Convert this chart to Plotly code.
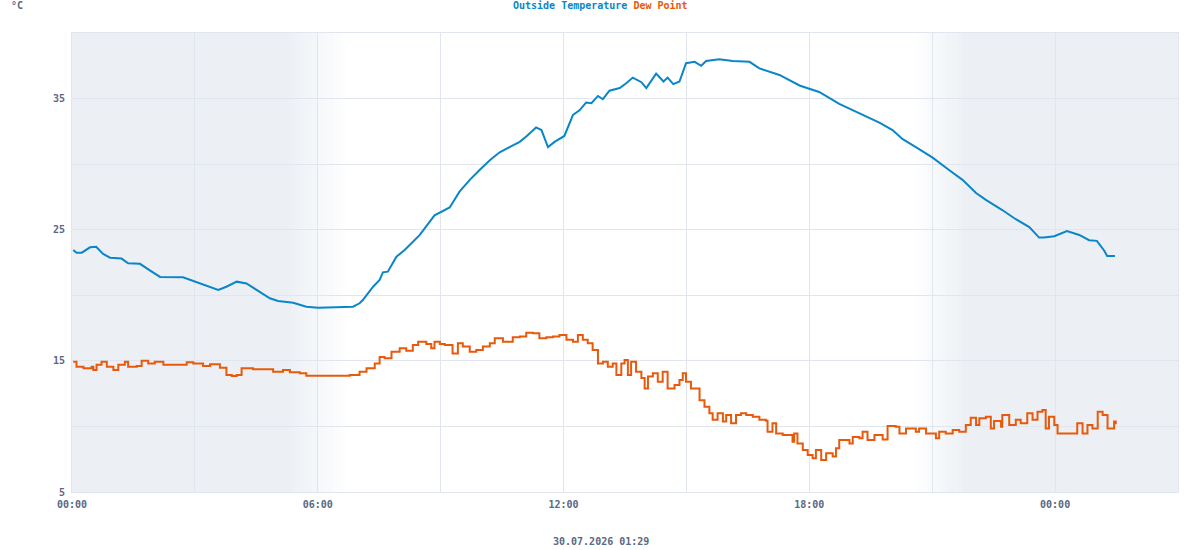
import plotly.graph_objects as go

# time in hours since 00:00 of 29.07.2026
temp_h = [0.03, 0.11, 0.24, 0.44, 0.59, 0.76, 0.93, 1.21, 1.37, 1.66, 1.90, 2.15, 2.71, 2.96, 3.29, 3.57,
          3.77, 4.02, 4.26, 4.50, 4.83, 5.03, 5.40, 5.72, 6.01, 6.86, 7.02, 7.10, 7.35, 7.51, 7.59, 7.71,
          7.92, 8.12, 8.37, 8.49, 8.85, 8.98, 9.22, 9.46, 9.71, 9.95, 10.20, 10.44, 10.68, 10.93, 11.09,
          11.33, 11.46, 11.62, 11.78, 12.02, 12.23, 12.39, 12.55, 12.68, 12.84, 12.96, 13.12, 13.37, 13.53,
          13.69, 13.90, 14.02, 14.26, 14.44, 14.54, 14.68, 14.83, 14.99, 15.20, 15.36, 15.48, 15.80, 16.13,
          16.54, 16.78, 17.27, 17.76, 18.24, 18.73, 19.22, 19.71, 20.03, 20.28, 20.60, 21.01, 21.41, 21.74,
          22.07, 22.31, 22.71, 23.04, 23.37, 23.61, 23.73, 23.98, 24.29, 24.59, 24.83, 25.02, 25.20, 25.27, 25.46]
temp_v = [23.45, 23.25, 23.25, 23.66, 23.7, 23.15, 22.87, 22.8, 22.44, 22.4, 21.9, 21.4, 21.37, 21.1, 20.7, 20.4,
          20.65, 21.04, 20.9, 20.4, 19.77, 19.56, 19.43, 19.13, 19.05, 19.13, 19.39, 19.64, 20.65, 21.17, 21.75, 21.8,
          22.94, 23.45, 24.2, 24.6, 26.1, 26.3, 26.7, 27.9, 28.8, 29.55, 30.3, 30.9, 31.3, 31.7, 32.1,
          32.8, 32.6, 31.3, 31.7, 32.15, 33.75, 34.1, 34.7, 34.65, 35.2, 34.95, 35.6, 35.8, 36.17,
          36.6, 36.25, 35.8, 36.9, 36.3, 36.6, 36.1, 36.3, 37.7, 37.8, 37.5, 37.86, 38.0, 37.86,
          37.8, 37.3, 36.8, 36.0, 35.5, 34.6, 33.9, 33.16, 32.6, 31.9, 31.3, 30.5, 29.55, 28.8,
          27.8, 27.27, 26.5, 25.8, 25.2, 24.4, 24.4, 24.5, 24.9, 24.6, 24.2, 24.15, 23.4, 23.0, 23.0]

dew_h = [0.03, 0.11, 0.28, 0.48, 0.52, 0.60, 0.72, 0.85, 1.01, 1.13, 1.29, 1.37, 1.58, 1.70, 1.86, 2.02, 2.23,
         2.71, 2.80, 2.96, 3.20, 3.37, 3.61, 3.77, 3.90, 4.02, 4.14, 4.42, 4.67, 4.91, 5.15, 5.32, 5.56, 5.72,
         5.97, 6.78, 7.02, 7.19, 7.39, 7.51, 7.63, 7.80, 8.00, 8.16, 8.32, 8.45, 8.65, 8.77, 8.85, 8.98, 9.10,
         9.29, 9.42, 9.54, 9.71, 9.87, 10.03, 10.20, 10.32, 10.52, 10.76, 10.93, 11.09, 11.25, 11.41, 11.58,
         11.74, 11.90, 12.07, 12.23, 12.35, 12.47, 12.59, 12.71, 12.84, 12.96, 13.08, 13.20, 13.29, 13.41,
         13.49, 13.57, 13.65, 13.77, 13.90, 13.98, 14.06, 14.18, 14.30, 14.42, 14.54, 14.71, 14.83, 14.91,
         14.99, 15.11, 15.24, 15.32, 15.44, 15.56, 15.64, 15.76, 15.89, 15.97, 16.09, 16.21, 16.33, 16.46,
         16.62, 16.78, 16.94, 16.98, 17.10, 17.19, 17.35, 17.59, 17.63, 17.71, 17.84, 17.96, 18.08, 18.16,
         18.29, 18.41, 18.57, 18.65, 18.73, 18.98, 19.06, 19.22, 19.30, 19.42, 19.59, 19.79, 19.91, 20.11,
         20.20, 20.36, 20.60, 20.68, 20.85, 21.09, 21.17, 21.33, 21.50, 21.66, 21.82, 21.94, 22.07, 22.15,
         22.31, 22.43, 22.51, 22.68, 22.71, 22.88, 23.04, 23.16, 23.32, 23.45, 23.57, 23.69, 23.77, 23.85,
         23.98, 24.06, 24.42, 24.54, 24.67, 24.79, 24.91, 25.04, 25.16, 25.28, 25.40, 25.44, 25.48]
dew_v = [14.94, 14.56, 14.43, 14.56, 14.3, 14.7, 14.94, 14.56, 14.3, 14.7, 14.94, 14.56, 14.6, 15.0, 14.8, 14.94, 14.7,
         14.7, 14.9, 14.8, 14.6, 14.75, 14.48, 13.92, 13.85, 13.92, 14.43, 14.36, 14.36, 14.17, 14.3, 14.13, 14.05, 13.87,
         13.87, 13.92, 14.17, 14.43, 14.8, 15.3, 15.2, 15.7, 15.96, 15.77, 16.2, 16.46, 16.28, 15.96, 16.46, 16.28, 16.2,
         15.57, 16.35, 16.1, 15.7, 15.83, 16.1, 16.35, 16.73, 16.46, 16.8, 16.85, 17.15, 17.1, 16.73, 16.8,
         16.85, 16.97, 16.6, 16.46, 16.97, 16.6, 16.35, 15.83, 14.8, 14.94, 14.56, 14.8, 13.92, 14.8,
         15.07, 13.92, 14.94, 14.17, 13.7, 12.9, 13.8, 14.05, 13.41, 14.17, 12.9, 13.16, 13.54, 14.05,
         13.41, 12.9, 12.9, 12.0, 11.5, 11.0, 10.5, 11.0, 10.37, 10.87, 10.24, 10.87, 11.0, 10.87,
         10.74, 10.5, 10.44, 9.6, 10.24, 9.47, 9.35, 8.84, 9.47, 8.7, 8.2, 7.82, 7.57, 8.2,
         7.44, 7.95, 7.7, 8.33, 8.97, 8.7, 9.2, 9.1, 9.6, 8.97, 9.35, 9.0, 10.03, 9.98,
         9.47, 9.85, 9.6, 9.85, 9.47, 9.09, 9.6, 9.47, 9.73, 9.6, 10.1, 10.67, 10.1, 10.62,
         10.74, 9.85, 10.41, 9.98, 10.87, 10.1, 10.5, 10.24, 11.0, 10.5, 11.12, 11.25, 9.85, 10.74,
         10.1, 9.47, 9.47, 10.24, 9.47, 10.1, 9.85, 11.12, 10.87, 9.85, 9.85, 10.37, 10.17]

x_ticks = [0, 3, 6, 9, 12, 15, 18, 21, 24, 27]
x_labels = ["00:00", "", "06:00", "", "12:00", "", "18:00", "", "00:00", ""]
y_ticks = [5, 10, 15, 20, 25, 30, 35, 40]
y_labels = ["5", "", "15", "", "25", "", "35", ""]

# night shading: full, fade (start, end)
night_left_full = (0, 5.32)
night_left_fade = (5.32, 6.75)
night_right_fade = (20.55, 21.8)
night_right_full = (21.8, 27)

BLUE = "#0a86c8"
ORANGE = "#e8590c"
TXT = "#5a6882"
GRID = "#e1e6ee"
NIGHT = "rgb(236,240,245)"
FONT = "DejaVu Sans Mono"

W, H = 1200, 550
ML, MR, MT, MB = 72, 22, 33, 58
PW, PH = W - ML - MR, H - MT - MB


def px_x(px):
    return (px - ML) / PW


def px_y(py):
    return (H - MB - py) / PH


fig = go.Figure()
fig.add_trace(go.Scatter(x=temp_h, y=temp_v, mode="lines", line=dict(color=BLUE, width=2),
                         name="Outside Temperature"))
fig.add_trace(go.Scatter(x=dew_h, y=dew_v, mode="lines", line=dict(color=ORANGE, width=2, shape="hv"),
                         name="Dew Point"))

shapes = []
for a, b in (night_left_full, night_right_full):
    shapes.append(dict(type="rect", xref="x", yref="y", x0=a, x1=b, y0=5, y1=40,
                       fillcolor=NIGHT, line_width=0, layer="below"))
steps = 24
for (a, b), rising in ((night_left_fade, False), (night_right_fade, True)):
    w = (b - a) / steps
    for i in range(steps):
        frac = (i + 0.5) / steps
        op = frac if rising else 1 - frac
        shapes.append(dict(type="rect", xref="x", yref="y", x0=a + i * w, x1=a + (i + 1) * w + 0.002,
                           y0=5, y1=40, fillcolor=NIGHT, opacity=op, line_width=0, layer="below"))

fnt = dict(family=FONT, size=10, color=TXT, weight="bold")
fig.update_layout(
    width=W, height=H,
    margin=dict(l=ML, r=MR, t=MT, b=MB),
    paper_bgcolor="white", plot_bgcolor="white",
    showlegend=False,
    shapes=shapes,
    font=fnt,
    annotations=[
        dict(text=f"<span style='color:{BLUE}'>Outside Temperature</span> <span style='color:{ORANGE}'>Dew Point</span>",
             x=px_x(600), y=px_y(6), xref="paper", yref="paper", xanchor="center", yanchor="middle",
             showarrow=False, font=dict(family=FONT, size=10, weight="bold")),
        dict(text="°C", x=px_x(9), y=px_y(6), xref="paper", yref="paper", xanchor="left", yanchor="middle",
             showarrow=False, font=fnt),
        dict(text="30.07.2026 01:29", x=px_x(601), y=px_y(541), xref="paper", yref="paper",
             xanchor="center", yanchor="middle", showarrow=False, font=fnt),
    ],
)
fig.update_xaxes(range=[0, 27], tickvals=x_ticks, ticktext=x_labels, showgrid=True, gridcolor=GRID,
                 gridwidth=1, zeroline=False, showline=True, linecolor=GRID, linewidth=1, mirror=True,
                 ticks="", tickfont=fnt, ticklabelstandoff=3)
fig.update_yaxes(range=[5, 40], tickvals=y_ticks, ticktext=y_labels, showgrid=True, gridcolor=GRID,
                 gridwidth=1, zeroline=False, showline=True, linecolor=GRID, linewidth=1, mirror=True,
                 ticks="", tickfont=fnt, ticklabelstandoff=4)
fig.write_html("out.html")
